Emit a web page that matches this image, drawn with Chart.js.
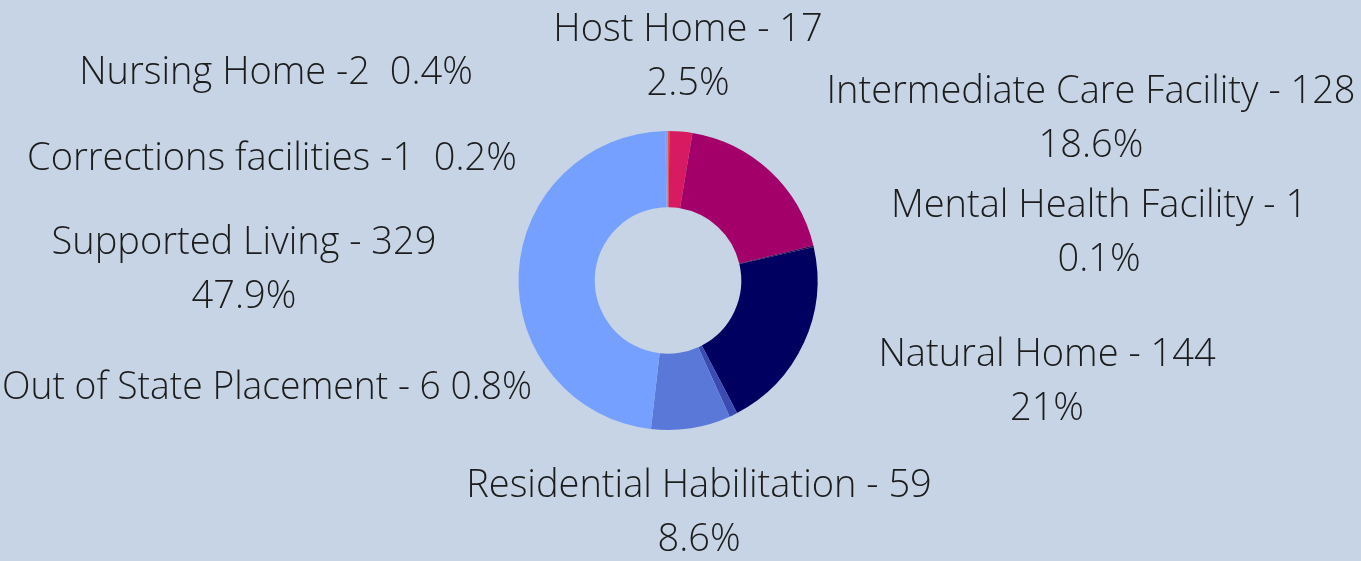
<!DOCTYPE html>
<html>
<head>
<meta charset="utf-8">
<script src="https://cdn.jsdelivr.net/npm/chart.js@4"></script>
<style>
  html, body { margin: 0; padding: 0; background: #c6d4e5; }
  #wrap { width: 1361px; height: 561px; position: relative; }
</style>
</head>
<body>
<div id="wrap"><canvas id="chart"></canvas></div>
<script>
// slice order clockwise from 12 o'clock
var categories = ["Corrections facilities", "Host Home", "Intermediate Care Facility", "Mental Health Facility",
  "Natural Home", "Out of State Placement", "Residential Habilitation", "Supported Living", "Nursing Home"];
var counts = [1, 17, 128, 1, 144, 6, 59, 329, 2];
var sliceColors = ["#f0503c", "#d81b60", "#a3006a", "#3c0050", "#000060", "#3a4cb2", "#5a78d8", "#75a0ff", "#75a0ff"];

// label text lines as they appear on the picture
var labelLines = [
  ["Nursing Home -2  0.4%"],
  ["Host Home - 17", "2.5%"],
  ["Intermediate Care Facility - 128", "18.6%"],
  ["Corrections facilities -1  0.2%"],
  ["Mental Health Facility - 1", "0.1%"],
  ["Supported Living - 329", "47.9%"],
  ["Natural Home - 144", "21%"],
  ["Out of State Placement - 6 0.8%"],
  ["Residential Habilitation - 59", "8.6%"]
];
var labelAt = [[276, 73], [688, 30], [1091, 92], [272, 159], [1099, 206], [244, 243], [1047, 355], [267, 388], [699, 486]];

const labelPlugin = {
  id: "outerLabels",
  afterDraw: (chart) => {
    const ctx = chart.ctx;
    ctx.save();
    ctx.fillStyle = "#1c1c1c";
    ctx.font = "300 38px 'Open Sans'";
    ctx.textAlign = "center";
    ctx.textBaseline = "middle";
    labelLines.forEach((lines, i) => {
      lines.forEach((t, j) => {
        ctx.fillText(t, labelAt[i][0], labelAt[i][1] + j * 54, 530);
      });
    });
    ctx.restore();
  },
};

new Chart(document.getElementById("chart"), {
  type: "doughnut",
  data: {
    labels: categories,
    datasets: [{
      data: counts,
      backgroundColor: sliceColors,
      borderWidth: 0,
    }],
  },
  options: {
    responsive: true,
    maintainAspectRatio: false,
    animation: false,
    cutout: "49%",
    layout: { padding: { top: 131, bottom: 131, left: 0, right: 25 } },
    plugins: {
      legend: { display: false },
      tooltip: { enabled: false },
    },
  },
  plugins: [labelPlugin],
});
</script>
</body>
</html>
